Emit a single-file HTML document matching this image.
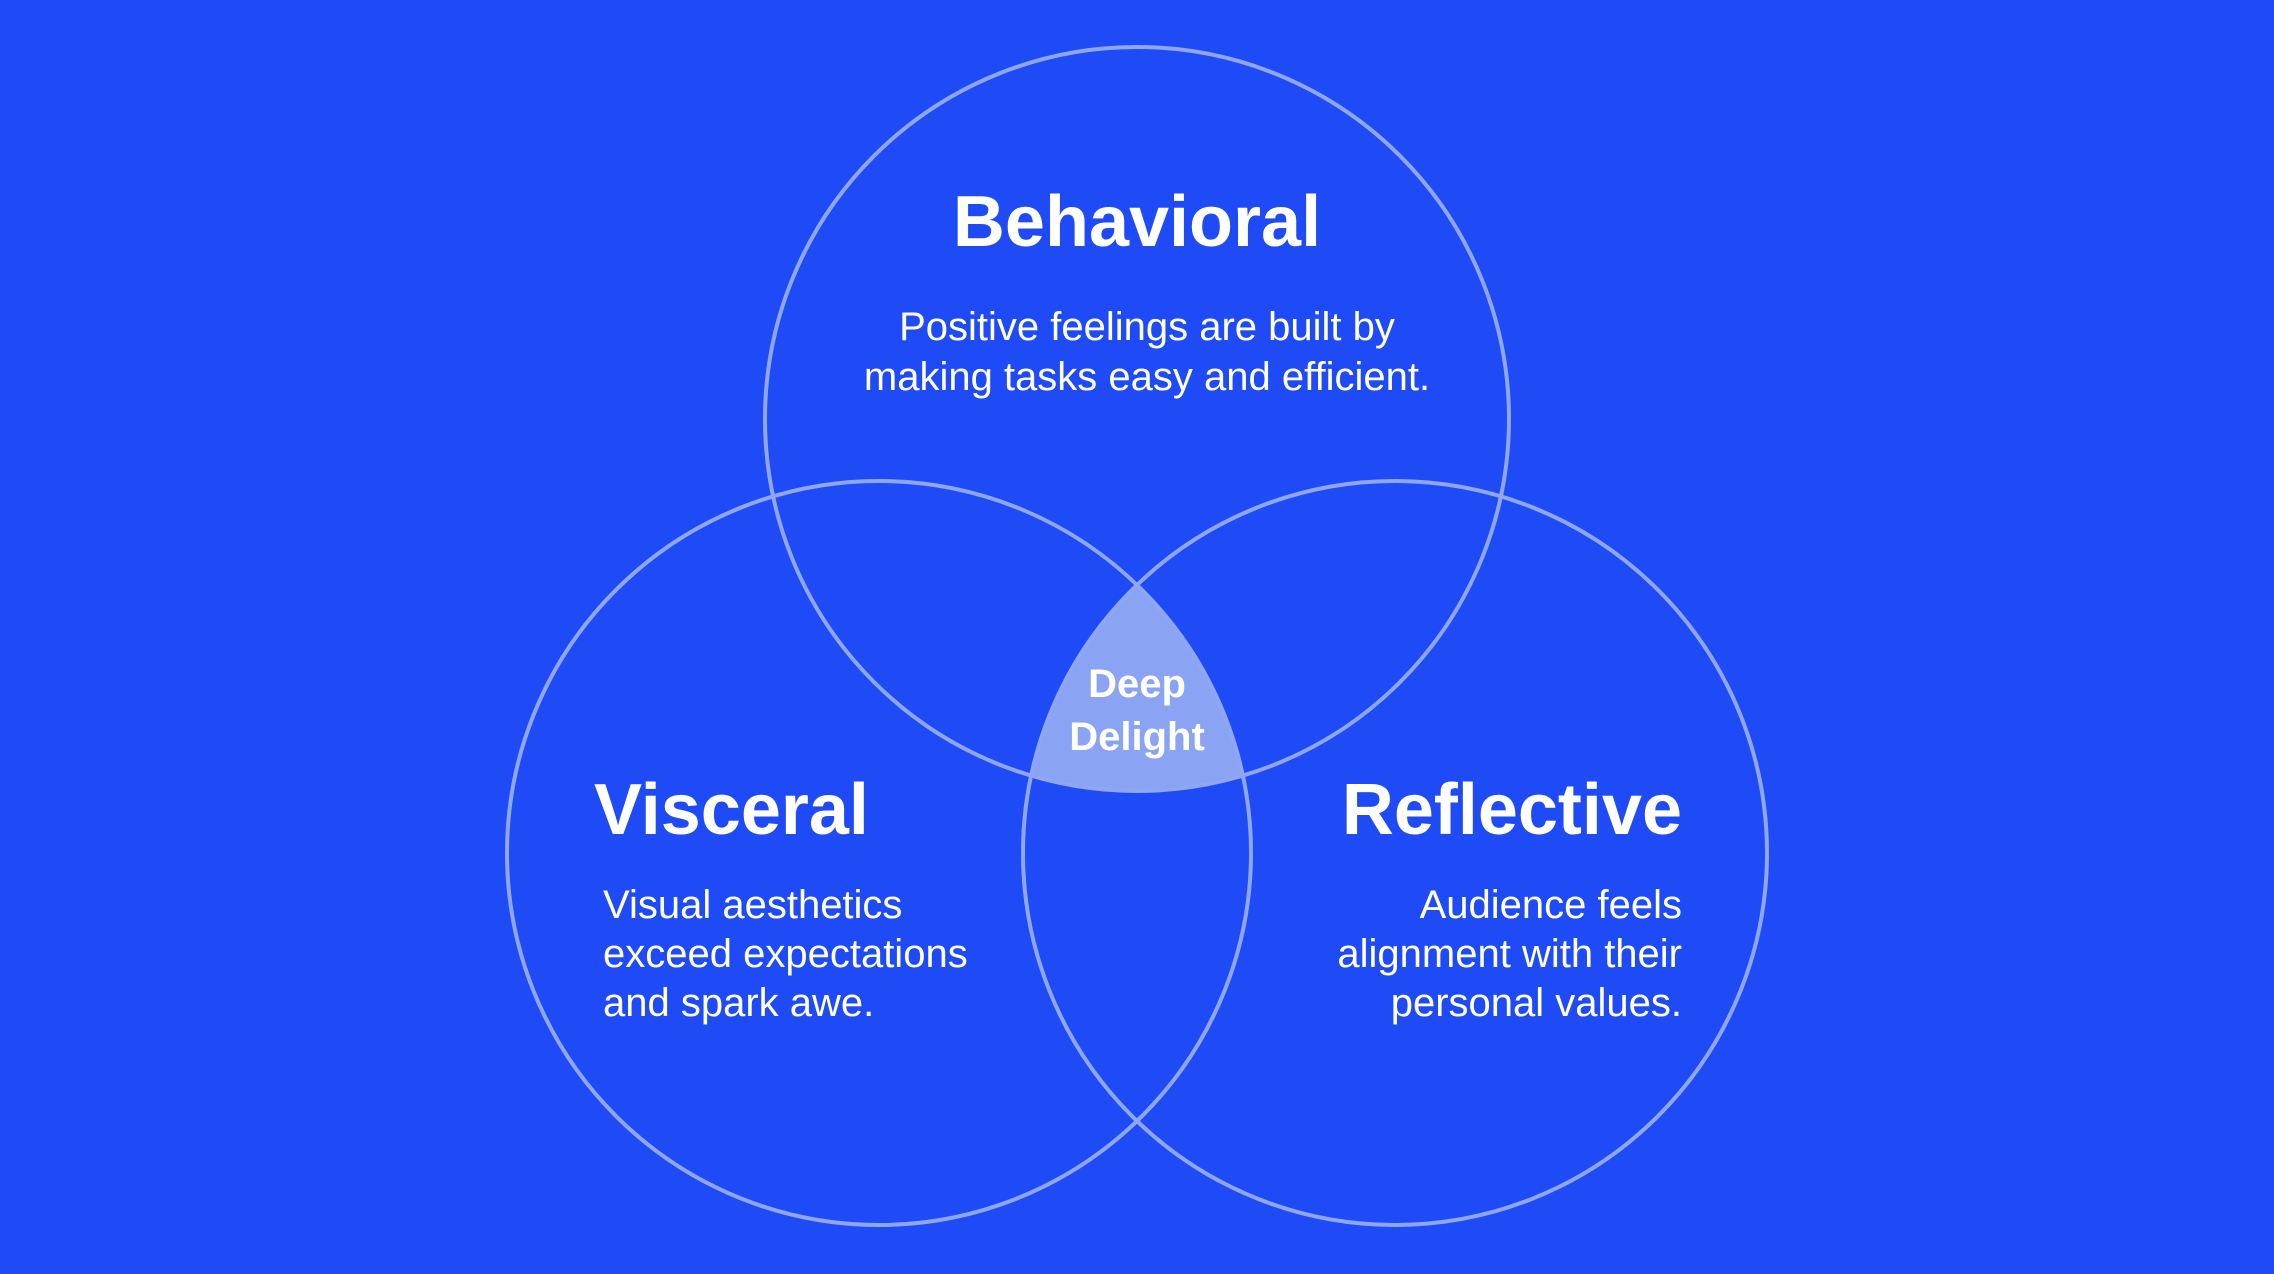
<!DOCTYPE html>
<html><head><meta charset="utf-8"><style>
html,body{margin:0;padding:0;background:#1F4BF6;}
svg{display:block}
text{font-family:"Liberation Sans",sans-serif;fill:#fff}
</style></head><body>
<svg width="2274" height="1274" viewBox="0 0 2274 1274" xmlns="http://www.w3.org/2000/svg">
<rect width="2274" height="1274" fill="#1F4BF6"/>
<defs>
<clipPath id="c1"><circle cx="1137" cy="419" r="372"/></clipPath>
<clipPath id="c2"><circle cx="879" cy="853" r="372"/></clipPath>
</defs>
<g clip-path="url(#c1)"><g clip-path="url(#c2)"><circle cx="1395" cy="853" r="372" fill="#8AA3F2"/></g></g>
<g fill="none" stroke="#8FA6F4" stroke-width="4">
<circle cx="1137" cy="419" r="372"/>
<circle cx="879" cy="853" r="372"/>
<circle cx="1395" cy="853" r="372"/>
</g>
<text x="1137" y="246" text-anchor="middle" font-size="72" font-weight="bold">Behavioral</text>
<text x="1147" y="340" text-anchor="middle" font-size="40">Positive feelings are built by</text>
<text x="1147" y="390" text-anchor="middle" font-size="40">making tasks easy and efficient.</text>
<text x="594" y="834" font-size="72" font-weight="bold">Visceral</text>
<text x="603" y="918" font-size="40">Visual aesthetics</text>
<text x="603" y="967" font-size="40">exceed expectations</text>
<text x="603" y="1016" font-size="40">and spark awe.</text>
<text x="1682" y="834" text-anchor="end" font-size="72" font-weight="bold">Reflective</text>
<text x="1682" y="918" text-anchor="end" font-size="40">Audience feels</text>
<text x="1682" y="967" text-anchor="end" font-size="40">alignment with their</text>
<text x="1682" y="1016" text-anchor="end" font-size="40">personal values.</text>
<text x="1137" y="697" text-anchor="middle" font-size="40" font-weight="bold">Deep</text>
<text x="1137" y="750" text-anchor="middle" font-size="40" font-weight="bold">Delight</text>
</svg>
</body></html>
